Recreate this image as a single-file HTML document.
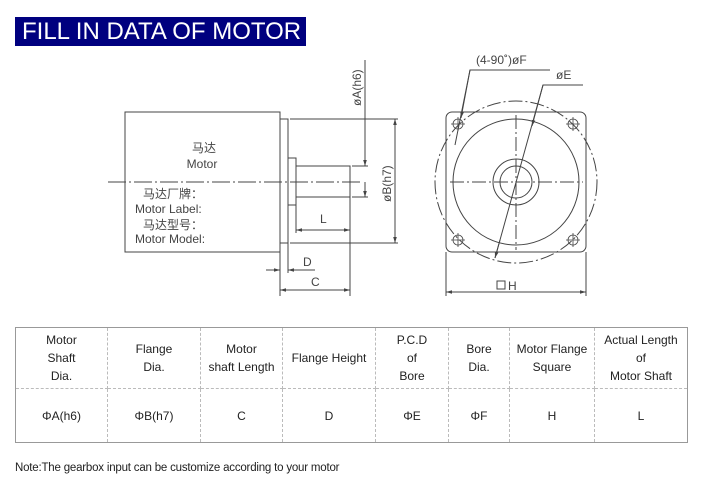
<!DOCTYPE html>
<html><head><meta charset="utf-8"><style>
body{margin:0;width:703px;height:496px;background:#fff;position:relative;overflow:hidden;font-family:"Liberation Sans","Noto Sans CJK SC",sans-serif}
.title{position:absolute;left:15px;top:17px;width:291px;height:29px;background:#00007f;color:#fff;font-size:24px;line-height:30px;padding-left:7px;box-sizing:border-box;white-space:nowrap}
table{position:absolute;left:15px;top:327px;width:673px;height:116px;border-collapse:collapse;border:1px solid #999;font-size:12px;color:#222;table-layout:fixed}
td{border:1px dashed #bbb;text-align:center;vertical-align:middle;padding:0;line-height:18px}
.note{position:absolute;left:15px;top:462px;font-size:11.5px;color:#222;letter-spacing:-0.2px}
svg{position:absolute;left:0;top:0}
</style></head><body>
<div class="title">FILL IN DATA OF MOTOR</div>
<svg width="703" height="320" viewBox="0 0 703 320" fill="none" stroke="#444" stroke-width="1">
<defs><marker id="a" viewBox="0 0 10 10" refX="10" refY="5" markerWidth="6" markerHeight="6" orient="auto-start-reverse"><path d="M0,2L10,5L0,8z" fill="#444" stroke="none"/></marker></defs>
<rect x="125" y="112" width="155" height="140"/>
<rect x="280" y="119" width="8" height="124"/>
<rect x="288" y="158" width="8" height="47"/>
<rect x="296" y="166" width="54" height="31"/>
<line x1="108" y1="182" x2="362" y2="182" stroke-dasharray="18,3,2,3"/>
<line x1="365" y1="60" x2="365" y2="166" marker-end="url(#a)"/>
<line x1="365" y1="197" x2="365" y2="182" marker-start="url(#a)"/>
<line x1="352" y1="166" x2="368" y2="166"/><line x1="352" y1="197" x2="368" y2="197"/>
<line x1="290" y1="119" x2="398" y2="119"/><line x1="290" y1="243" x2="398" y2="243"/>
<line x1="395" y1="119" x2="395" y2="243" marker-start="url(#a)" marker-end="url(#a)"/>
<line x1="296" y1="197" x2="296" y2="233"/><line x1="350" y1="197" x2="350" y2="296"/>
<line x1="296" y1="230" x2="350" y2="230" marker-start="url(#a)" marker-end="url(#a)"/>
<line x1="280" y1="252" x2="280" y2="296"/><line x1="288" y1="243" x2="288" y2="273"/>
<line x1="266" y1="270" x2="280" y2="270" marker-end="url(#a)"/>
<line x1="315" y1="270" x2="288" y2="270" marker-end="url(#a)"/>
<line x1="280" y1="290" x2="350" y2="290" marker-start="url(#a)" marker-end="url(#a)"/>
<rect x="446" y="112" width="140" height="140" rx="6"/>
<circle cx="516" cy="182" r="81" stroke-dasharray="14,3,2,3"/>
<circle cx="516" cy="182" r="63"/>
<circle cx="516" cy="182" r="23"/>
<circle cx="516" cy="182" r="16"/>
<line x1="450" y1="182" x2="583" y2="182" stroke-dasharray="14,3,2,3"/>
<line x1="516" y1="115" x2="516" y2="250" stroke-dasharray="14,3,2,3"/>
<g stroke-width="0.8">
<circle cx="458" cy="124" r="5"/><circle cx="573" cy="124" r="5"/><circle cx="458" cy="240" r="5"/><circle cx="573" cy="240" r="5"/>
<path d="M451,124h14M458,117v14M566,124h14M573,117v14M451,240h14M458,233v14M566,240h14M573,233v14"/>
</g>
<path d="M583,85H543L495,258" />
<line x1="543" y1="85" x2="532" y2="126" marker-end="url(#a)"/>
<line x1="495" y1="258" x2="500" y2="240" marker-start="url(#a)"/>
<path d="M550,70H470L455,145"/>
<line x1="470" y1="70" x2="461" y2="118" marker-end="url(#a)"/>
<line x1="446" y1="252" x2="446" y2="296"/><line x1="586" y1="252" x2="586" y2="296"/>
<line x1="446" y1="292" x2="586" y2="292" marker-start="url(#a)" marker-end="url(#a)"/>
<rect x="497" y="281" width="8" height="8"/>
<g fill="#444" stroke="none" font-family="Liberation Sans, Noto Sans CJK SC, sans-serif" font-size="12">
<text x="204" y="152" text-anchor="middle">马达</text>
<text x="202" y="168" text-anchor="middle">Motor</text>
<text x="143" y="198">马达厂牌：</text>
<text x="135" y="213">Motor Label:</text>
<text x="143" y="229">马达型号：</text>
<text x="135" y="243">Motor Model:</text>
<text x="320" y="223">L</text>
<text x="303" y="266">D</text>
<text x="311" y="286">C</text>
<text transform="translate(361,106) rotate(-90)">øA(h6)</text>
<text transform="translate(391,202) rotate(-90)">øB(h7)</text>
<text x="476" y="64">(4-90˚)øF</text>
<text x="556" y="79">øE</text>
<text x="508" y="290">H</text>
</g>
</svg>
<table><tr style="height:61px"><td style="width:91px">Motor<br>Shaft<br>Dia.</td><td style="width:92px">Flange<br>Dia.</td><td style="width:81px">Motor<br>shaft Length</td><td style="width:92px">Flange Height</td><td style="width:72px">P.C.D<br>of<br>Bore</td><td style="width:60px">Bore<br>Dia.</td><td style="width:84px">Motor Flange<br>Square</td><td>Actual Length<br>of<br>Motor Shaft</td></tr>
<tr><td>ΦA(h6)</td><td>ΦB(h7)</td><td>C</td><td>D</td><td>ΦE</td><td>ΦF</td><td>H</td><td>L</td></tr></table>
<div class="note">Note:The gearbox input can be customize according to your motor</div>
</body></html>
